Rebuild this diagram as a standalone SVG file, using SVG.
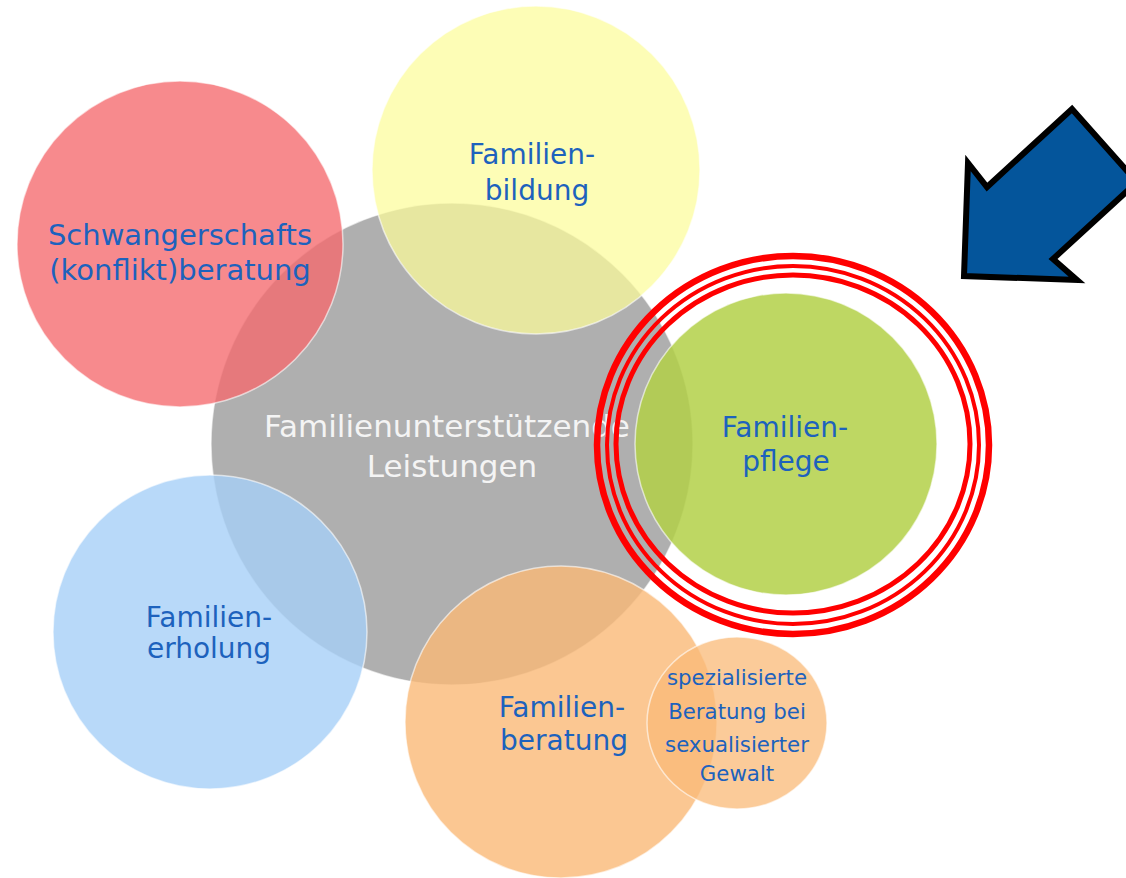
<svg xmlns="http://www.w3.org/2000/svg" width="1126" height="878" viewBox="0 0 1126 878">
<style>
.c{stroke:#ffffff;stroke-opacity:0.6;stroke-width:1.5}
.t{font-family:"DejaVu Sans","Liberation Sans",sans-serif;fill:#1d62bd;text-anchor:middle;font-size:28px}
.w{font-family:"DejaVu Sans","Liberation Sans",sans-serif;fill:#f4f4f4;text-anchor:middle;font-size:31px}
.s{font-family:"DejaVu Sans","Liberation Sans",sans-serif;fill:#1d62bd;text-anchor:middle;font-size:21.3px}
.r{fill:none;stroke:#ff0000}
</style>
<rect width="1126" height="878" fill="#ffffff"/>
<g id="center">
<circle cx="452" cy="444" r="241" fill="#afafaf" class="c"/>
<text class="w" x="447" y="437">Familienunterstützende</text>
<text class="w" x="452" y="477">Leistungen</text>
</g>
<g id="schwangerschaft">
<circle cx="180" cy="244" r="163" fill="#f56a6e" fill-opacity="0.79" class="c"/>
<text class="t" x="180" y="245" style="font-size:29px">Schwangerschafts</text>
<text class="t" x="180" y="280" style="font-size:29px">(konflikt)beratung</text>
</g>
<g id="bildung">
<circle cx="536" cy="170" r="164" fill="#fcfc9a" fill-opacity="0.72" class="c"/>
<text class="t" x="532" y="164">Familien-</text>
<text class="t" x="537" y="200">bildung</text>
</g>
<g id="pflege">
<circle cx="786" cy="444" r="151" fill="#b3d048" fill-opacity="0.85" class="c"/>
<text class="t" x="785" y="437">Familien-</text>
<text class="t" x="786" y="471">pflege</text>
</g>
<g id="erholung">
<circle cx="210" cy="632" r="157" fill="#a6cff8" fill-opacity="0.8" class="c"/>
<text class="t" x="209" y="627">Familien-</text>
<text class="t" x="209" y="658">erholung</text>
</g>
<g id="beratung">
<circle cx="561" cy="722" r="156" fill="#fab977" fill-opacity="0.8" class="c"/>
<text class="t" x="562" y="717">Familien-</text>
<text class="t" x="564" y="750">beratung</text>
</g>
<g id="gewalt">
<ellipse cx="737" cy="723" rx="90" ry="86" fill="#fab977" fill-opacity="0.75" class="c"/>
<text class="s" x="737" y="685">spezialisierte</text>
<text class="s" x="737" y="719">Beratung bei</text>
<text class="s" x="737" y="752">sexualisierter</text>
<text class="s" x="737" y="781">Gewalt</text>
</g>
<g id="highlight">
<ellipse class="r" cx="793" cy="445" rx="196" ry="189" stroke-width="6.5"/>
<ellipse class="r" cx="793" cy="445" rx="186" ry="179" stroke-width="4"/>
<ellipse class="r" cx="793" cy="444" rx="177" ry="169" stroke-width="5"/>
</g>
<g id="connectors">
<polygon points="964,276 968,163 987,187 1072,109 1137,182 1053,259 1077,280" fill="#04559b" stroke="#000000" stroke-width="6" stroke-linejoin="miter"/>
</g>
</svg>
